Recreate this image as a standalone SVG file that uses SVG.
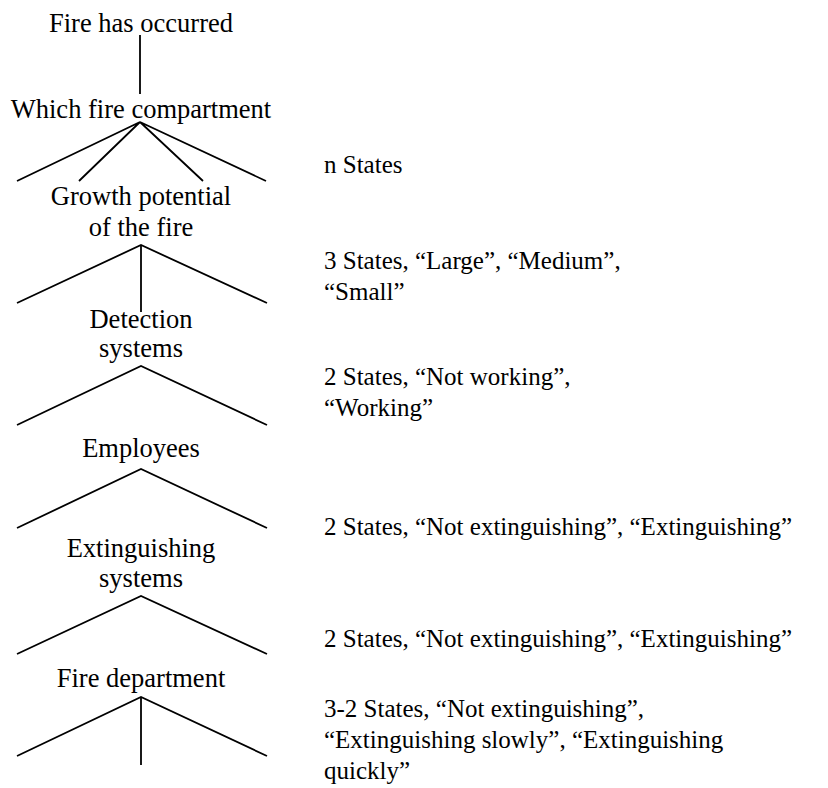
<svg xmlns="http://www.w3.org/2000/svg" width="828" height="788" viewBox="0 0 828 788">
<style>
text{font-family:"Liberation Serif","Times New Roman",serif;font-size:25px;fill:#000}
.c{text-anchor:middle;font-size:26.5px}
.l{fill:none;stroke:#000;stroke-width:1.8}
</style>
<rect width="828" height="788" fill="#fff"/>
<g id="connectors">
<line class="l" x1="140" y1="35" x2="140" y2="94"/>
<polyline class="l" points="17,181 140,122 79,181"/>
<polyline class="l" points="203,181 140,122 266,181"/>
<polyline class="l" points="17,303 141,245 267,303"/>
<line class="l" x1="141" y1="245" x2="141" y2="312"/>
<polyline class="l" points="17,425 141,366 267,425"/>
<polyline class="l" points="17,528 141,469 267,528"/>
<polyline class="l" points="17,654 141,596 267,654"/>
<polyline class="l" points="17,756 141,697 267,756"/>
<line class="l" x1="141" y1="697" x2="141" y2="765"/>
</g>
<g id="n1"><text class="c" x="141" y="32">Fire has occurred</text></g>
<g id="n2"><text class="c" x="141" y="118">Which fire compartment</text></g>
<g id="n3"><text class="c" x="141" y="205">Growth potential</text><text class="c" x="141" y="236">of the fire</text></g>
<g id="n4"><text class="c" x="141" y="328">Detection</text><text class="c" x="141" y="357">systems</text></g>
<g id="n5"><text class="c" x="141" y="457">Employees</text></g>
<g id="n6"><text class="c" x="141" y="557">Extinguishing</text><text class="c" x="141" y="587">systems</text></g>
<g id="n7"><text class="c" x="141" y="687">Fire department</text></g>
<g id="s1"><text x="324" y="173">n States</text></g>
<g id="s2"><text x="324" y="269">3 States, “Large”, “Medium”,</text><text x="324" y="300">“Small”</text></g>
<g id="s3"><text x="324" y="385">2 States, “Not working”,</text><text x="324" y="416">“Working”</text></g>
<g id="s4"><text x="324" y="535">2 States, “Not extinguishing”, “Extinguishing”</text></g>
<g id="s5"><text x="324" y="647">2 States, “Not extinguishing”, “Extinguishing”</text></g>
<g id="s6"><text x="324" y="717">3-2 States, “Not extinguishing”,</text><text x="324" y="748">“Extinguishing slowly”, “Extinguishing</text><text x="324" y="779">quickly”</text></g>
</svg>
